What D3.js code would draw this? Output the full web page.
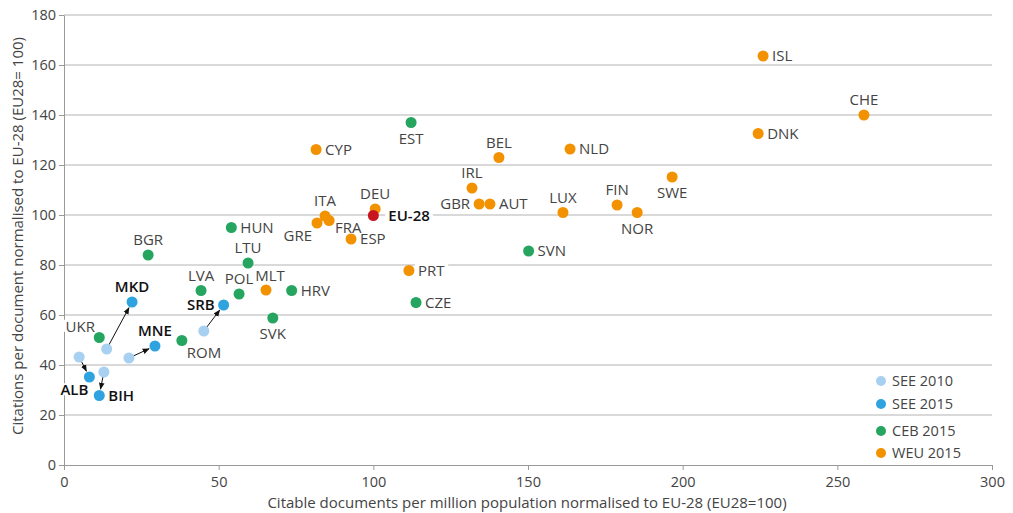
<!DOCTYPE html>
<html lang="en">
<head>
<meta charset="UTF-8">
<title>Citations vs citable documents</title>
<script src="https://d3js.org/d3.v7.min.js"></script>
<style>
  body { margin: 0; background: #fff; }
  text { font-family: "Open Sans", "Noto Sans", sans-serif; }
</style>
</head>
<body>
<div id="chart"></div>
<script>
// ---- data ----
var xTicks = [0, 50, 100, 150, 200, 250, 300];
var yTicks = [0, 20, 40, 60, 80, 100, 120, 140, 160, 180];

var weuNames = ["ISL","CHE","DNK","NLD","BEL","SWE","IRL","GBR","AUT","LUX","FIN","NOR","CYP","DEU","ITA","FRA","GRE","ESP","PRT","MLT"];
var weuX = [226.0, 258.6, 224.4, 163.6, 140.6, 196.6, 131.9, 134.2, 137.7, 161.3, 178.8, 185.3, 81.5, 100.6, 84.4, 85.7, 81.8, 92.8, 111.5, 65.3];
var weuY = [163.6, 140.0, 132.6, 126.4, 123.0, 115.2, 110.8, 104.4, 104.4, 101.0, 104.0, 101.0, 126.2, 102.4, 99.6, 97.8, 96.8, 90.4, 77.8, 70.0];

var cebNames = ["EST","CZE","SVN","HUN","BGR","LTU","LVA","POL","HRV","SVK","ROM","UKR"];
var cebX = [112.2, 113.8, 150.2, 54.1, 27.2, 59.5, 44.3, 56.6, 73.6, 67.5, 38.1, 11.4];
var cebY = [137.0, 65.0, 85.6, 95.0, 84.0, 80.8, 69.8, 68.4, 69.8, 58.8, 49.8, 51.0];

var seeNames = ["ALB","BIH","MKD","MNE","SRB"];
var see2010X = [4.9, 12.9, 13.8, 21.0, 45.2];
var see2010Y = [43.2, 37.2, 46.4, 42.8, 53.6];
var see2015X = [8.2, 11.4, 22.0, 29.4, 51.6];
var see2015Y = [35.2, 27.8, 65.2, 47.6, 64.0];

var euName = ["EU-28"];
var euX = [100];
var euY = [99.8];

var legendNames = ["SEE 2010", "SEE 2015", "CEB 2015", "WEU 2015"];

// colours
var cSee10 = "#a8d0f0", cSee15 = "#2ea3e0", cCeb = "#25a55f", cWeu = "#f39200", cEu = "#c8141e";

// where each label sits relative to its dot
var place = {
  ISL:"r", CHE:"t", DNK:"r", NLD:"r", BEL:"t", SWE:"b", IRL:"t", GBR:"l", AUT:"r", LUX:"t",
  FIN:"t", NOR:"b", CYP:"r", DEU:"t", ITA:"t", ESP:"r", PRT:"r", MLT:"t",
  EST:"b", CZE:"r", SVN:"r", HUN:"r", BGR:"t", LTU:"t", LVA:"t", POL:"t", HRV:"r", SVK:"b",
  MKD:"t", MNE:"t", SRB:"l", BIH:"r", "EU-28":"r"
};
var custom = {
  FRA: [6, 7, "start"], GRE: [-5, 13, "end"], ROM: [5, 12, "start"],
  UKR: [-19, -11, "middle"], ALB: [-15, 13, "middle"], "EU-28": [15, 0, "start"],
  MLT: [4, -14, "middle"]
};

// ---- layout ----
var W = 1013, H = 513;
var margin = {top: 15, right: 21, bottom: 48, left: 64};
var width = W - margin.left - margin.right,
    height = H - margin.top - margin.bottom;

var svg = d3.select("#chart").append("svg")
    .attr("width", W).attr("height", H);
var g = svg.append("g")
    .attr("transform", "translate(" + margin.left + "," + margin.top + ")");

var x = d3.scaleLinear().domain([0, 300]).range([0, width]);
var y = d3.scaleLinear().domain([0, 180]).range([height, 0]);

// gridlines
g.append("g").selectAll("line")
  .data(yTicks.slice(1))
  .enter().append("line")
    .attr("x1", 0).attr("x2", width)
    .attr("y1", function(d){ return y(d); })
    .attr("y2", function(d){ return y(d); })
    .attr("stroke", "#b3b3b3").attr("stroke-width", 1);

// axes
var xAxis = g.append("g")
    .attr("transform", "translate(0," + height + ")")
    .call(d3.axisBottom(x).tickValues(xTicks).tickSize(5).tickSizeOuter(0));
var yAxis = g.append("g")
    .call(d3.axisLeft(y).tickValues(yTicks).tickSize(5).tickSizeOuter(0));
[xAxis, yAxis].forEach(function(a){
  a.select(".domain").attr("stroke", "#9a9a9a");
  a.selectAll(".tick line").attr("stroke", "#9a9a9a");
  a.selectAll(".tick text").attr("fill", "#444").style("font-size", "14.5px")
    .style("font-family", "\"Open Sans\", sans-serif");
});
xAxis.selectAll(".tick text").attr("dy", "0.95em");
yAxis.selectAll(".tick text").attr("x", -8);

// axis titles
svg.append("text")
  .attr("x", 527).attr("y", 508)
  .attr("text-anchor", "middle")
  .attr("fill", "#444").style("font-size", "15px")
  .text("Citable documents per million population normalised to EU-28  (EU28=100)");
svg.append("text")
  .attr("transform", "translate(23,236) rotate(-90)")
  .attr("text-anchor", "middle")
  .attr("fill", "#444").style("font-size", "15px")
  .text("Citations per document  normalised to EU-28 (EU28= 100)");

// build point list
var pts = [];
weuNames.forEach(function(n, i){ pts.push({name:n, x:weuX[i], y:weuY[i], c:cWeu, bold:false}); });
cebNames.forEach(function(n, i){ pts.push({name:n, x:cebX[i], y:cebY[i], c:cCeb, bold:false}); });
seeNames.forEach(function(n, i){ pts.push({name:null, x:see2010X[i], y:see2010Y[i], c:cSee10}); });
seeNames.forEach(function(n, i){ pts.push({name:n, x:see2015X[i], y:see2015Y[i], c:cSee15, bold:true}); });
euName.forEach(function(n, i){ pts.push({name:n, x:euX[i], y:euY[i], c:cEu, bold:true}); });

var R = 5.5;

// labels positions
function labelPos(d){
  var px = x(d.x), py = y(d.y);
  if (custom[d.name]) { var c = custom[d.name]; return [px + c[0], py + c[1], c[2]]; }
  var p = place[d.name];
  if (p === "r") return [px + 9, py, "start"];
  if (p === "l") return [px - 9, py, "end"];
  if (p === "t") return [px, py - 15, "middle"];
  return [px, py + 16, "middle"];
}

var labelled = pts.filter(function(d){ return d.name; });

var bgLayer = g.append("g");
var arrowLayer = g.append("g");
var dotLayer = g.append("g");
var textLayer = g.append("g");

var labels = textLayer.selectAll("text")
  .data(labelled)
  .enter().append("text")
    .attr("x", function(d){ return labelPos(d)[0]; })
    .attr("y", function(d){ return labelPos(d)[1]; })
    .attr("dy", "0.35em")
    .attr("text-anchor", function(d){ return labelPos(d)[2]; })
    .attr("fill", function(d){ return d.bold ? "#111" : "#444"; })
    .style("font-weight", function(d){ return d.bold ? 600 : 400; })
    .style("font-size", "15px")
    .text(function(d){ return d.name; });

// white boxes behind labels so they break the gridlines
labels.each(function(){
  var b = this.getBBox();
  var cy = b.y + b.height / 2;
  bgLayer.append("rect")
    .attr("x", b.x - 3).attr("y", cy - 6)
    .attr("width", b.width + 6).attr("height", 12)
    .attr("fill", "#fff");
});

// arrows SEE 2010 -> 2015
svg.append("defs").append("marker")
    .attr("id", "arr").attr("viewBox", "0 0 10 10")
    .attr("refX", 9).attr("refY", 5)
    .attr("markerWidth", 7).attr("markerHeight", 7)
    .attr("markerUnits", "userSpaceOnUse")
    .attr("orient", "auto")
  .append("path").attr("d", "M0,1 L10,5 L0,9 Z").attr("fill", "#111");

seeNames.forEach(function(n, i){
  var x0 = x(see2010X[i]), y0 = y(see2010Y[i]), x1 = x(see2015X[i]), y1 = y(see2015Y[i]);
  var dx = x1 - x0, dy = y1 - y0, L = Math.sqrt(dx*dx + dy*dy);
  arrowLayer.append("line")
    .attr("x1", x0 + dx / L * 3).attr("y1", y0 + dy / L * 3)
    .attr("x2", x1 - dx / L * (R + 1)).attr("y2", y1 - dy / L * (R + 1))
    .attr("stroke", "#111").attr("stroke-width", 1)
    .attr("marker-end", "url(#arr)");
});

dotLayer.selectAll("circle")
  .data(pts)
  .enter().append("circle")
    .attr("cx", function(d){ return x(d.x); })
    .attr("cy", function(d){ return y(d.y); })
    .attr("r", R)
    .attr("fill", function(d){ return d.c; });

// legend
var legColors = [cSee10, cSee15, cCeb, cWeu];
var legY = [381, 404, 431, 453];
var leg = svg.append("g");
leg.selectAll("circle")
  .data(legendNames)
  .enter().append("circle")
    .attr("cx", 881)
    .attr("cy", function(d, i){ return legY[i]; })
    .attr("r", 5)
    .attr("fill", function(d, i){ return legColors[i]; });
leg.selectAll("text")
  .data(legendNames)
  .enter().append("text")
    .attr("x", 892)
    .attr("y", function(d, i){ return legY[i]; })
    .attr("dy", "0.35em")
    .attr("fill", "#444").style("font-size", "14.5px")
    .text(function(d){ return d; });
</script>
</body>
</html>
